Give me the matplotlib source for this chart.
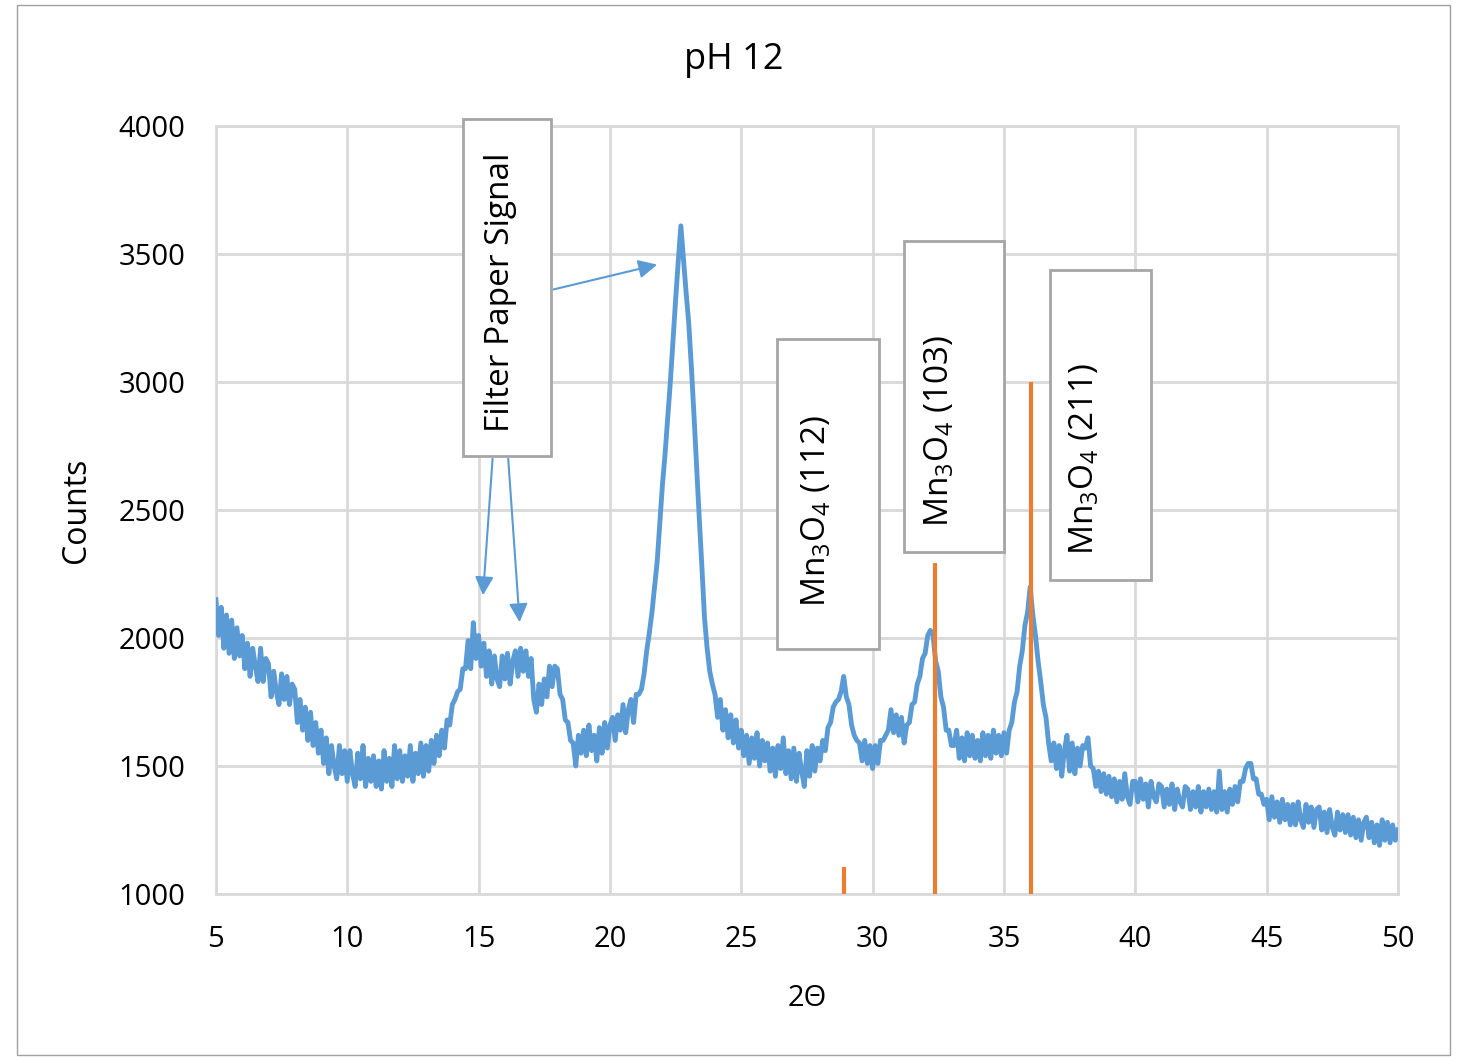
import numpy as np
import matplotlib.pyplot as plt
from matplotlib.patches import Rectangle

# XRD pattern, pH 12 (one row per degree, step 0.1)
counts = [
    2150, 2010, 2120, 1960, 2090, 1940, 2070, 1920, 2040, 1930,  # 5
    2010, 1880, 1980, 1850, 1960, 1890, 1830, 1960, 1830, 1920,  # 6
    1900, 1770, 1870, 1790, 1740, 1860, 1760, 1850, 1740, 1820,  # 7
    1800, 1670, 1760, 1640, 1730, 1600, 1710, 1580, 1670, 1550,  # 8
    1640, 1510, 1610, 1470, 1580, 1500, 1450, 1580, 1470, 1560,  # 9
    1440, 1560, 1470, 1420, 1550, 1450, 1580, 1420, 1530, 1440,  # 10
    1540, 1420, 1520, 1410, 1560, 1440, 1530, 1420, 1580, 1450,  # 11
    1560, 1440, 1540, 1460, 1580, 1440, 1550, 1470, 1590, 1460,  # 12
    1580, 1480, 1600, 1510, 1620, 1540, 1640, 1570, 1680, 1660,  # 13
    1740, 1760, 1790, 1800, 1880, 1880, 1990, 1880, 2060, 1920,  # 14
    2010, 1890, 1980, 1850, 1950, 1820, 1930, 1840, 1810, 1930,  # 15
    1840, 1940, 1820, 1910, 1950, 1850, 1960, 1870, 1950, 1850,  # 16
    1920, 1760, 1710, 1820, 1740, 1840, 1770, 1890, 1810, 1890,  # 17
    1880, 1780, 1760, 1680, 1670, 1600, 1590, 1500, 1620, 1550,  # 18
    1640, 1540, 1660, 1560, 1620, 1520, 1650, 1550, 1670, 1570,  # 19
    1660, 1690, 1600, 1700, 1640, 1740, 1630, 1720, 1760, 1670,  # 20
    1780, 1780, 1800, 1860, 1950, 2020, 2100, 2200, 2300, 2450,  # 21
    2600, 2720, 2860, 3000, 3160, 3320, 3470, 3610, 3480, 3350,  # 22
    3230, 3060, 2870, 2670, 2470, 2280, 2080, 1960, 1870, 1820,  # 23
    1780, 1690, 1760, 1640, 1720, 1610, 1700, 1590, 1680, 1570,  # 24
    1640, 1540, 1620, 1510, 1610, 1530, 1630, 1500, 1600, 1520,  # 25
    1590, 1480, 1570, 1460, 1580, 1490, 1610, 1470, 1560, 1450,  # 26
    1570, 1440, 1550, 1480, 1420, 1560, 1460, 1580, 1480, 1570,  # 27
    1520, 1600, 1560, 1650, 1670, 1730, 1750, 1760, 1790, 1850,  # 28
    1770, 1740, 1660, 1620, 1600, 1590, 1520, 1600, 1510, 1580,  # 29
    1490, 1580, 1510, 1600, 1600, 1620, 1640, 1720, 1630, 1700,  # 30
    1620, 1690, 1590, 1660, 1670, 1740, 1750, 1820, 1850, 1920,  # 31
    1940, 2010, 2030, 2010, 1910, 1870, 1770, 1730, 1640, 1640,  # 32
    1580, 1580, 1640, 1530, 1610, 1520, 1630, 1540, 1620, 1530,  # 33
    1600, 1520, 1630, 1540, 1620, 1530, 1640, 1550, 1620, 1540,  # 34
    1630, 1550, 1640, 1670, 1750, 1790, 1890, 1950, 2050, 2100,  # 35
    2200, 2090, 2010, 1910, 1830, 1740, 1690, 1590, 1520, 1590,  # 36
    1490, 1580, 1460, 1560, 1620, 1480, 1590, 1470, 1570, 1500,  # 37
    1580, 1570, 1610, 1500, 1490, 1420, 1480, 1400, 1470, 1390,  # 38
    1460, 1380, 1450, 1360, 1440, 1370, 1470, 1380, 1350, 1440,  # 39
    1440, 1360, 1450, 1370, 1430, 1340, 1440, 1380, 1360, 1430,  # 40
    1420, 1340, 1410, 1350, 1430, 1330, 1410, 1360, 1340, 1420,  # 41
    1410, 1330, 1400, 1340, 1420, 1320, 1400, 1340, 1410, 1330,  # 42
    1400, 1320, 1480, 1330, 1400, 1320, 1410, 1350, 1420, 1360,  # 43
    1440, 1440, 1490, 1510, 1510, 1450, 1450, 1390, 1390, 1350,  # 44
    1370, 1290, 1380, 1300, 1360, 1280, 1370, 1290, 1350, 1270,  # 45
    1350, 1270, 1360, 1290, 1260, 1350, 1280, 1340, 1260, 1330,  # 46
    1340, 1250, 1320, 1240, 1330, 1260, 1230, 1320, 1250, 1310,  # 47
    1240, 1310, 1230, 1300, 1220, 1290, 1210, 1280, 1300, 1220,  # 48
    1280, 1200, 1270, 1190, 1290, 1210, 1280, 1200, 1270, 1210,  # 49
    1250,                                                          # 50
]
two_theta = np.linspace(5, 50, len(counts))

# reference Mn3O4 sticks
stick_pos = [28.9, 32.37, 36.02]
stick_height = [1105, 2293, 3000]

labels = ["Filter Paper Signal", "Mn$_3$O$_4$ (112)", "Mn$_3$O$_4$ (103)", "Mn$_3$O$_4$ (211)"]

blue = "#5b9bd5"
orange = "#ed7d31"
plt.rcParams["font.family"] = ["Open Sans", "DejaVu Sans"]
plt.rcParams["mathtext.fontset"] = "custom"
plt.rcParams["mathtext.rm"] = "Open Sans"
plt.rcParams["mathtext.default"] = "regular"

fig = plt.figure(figsize=(14.58, 10.57), dpi=100)
ax = fig.add_axes([0.1481, 0.1542, 0.8107, 0.7266])

ax.plot(two_theta, counts, color=blue, lw=3.5, zorder=3)
ax.vlines(stick_pos, 1000, stick_height, color=orange, lw=3, zorder=4)

ax.set_xlim(5, 50)
ax.set_ylim(1000, 4000)
ax.set_xticks(np.arange(5, 51, 5))
ax.set_yticks(np.arange(1000, 4001, 500))
ax.grid(True, color="#d9d9d9", lw=2)
ax.set_axisbelow(True)
for s in ax.spines.values():
    s.set_color("#d9d9d9")
    s.set_linewidth(2)
ax.tick_params(length=0, labelsize=21)
ax.tick_params(axis="x", pad=22)
ax.tick_params(axis="y", pad=22)

fig.text(0.503, 0.943, "pH 12", fontsize=26, ha="center", va="center")
ax.set_xlabel("2Θ", fontsize=21, labelpad=22)
ax.set_ylabel("Counts", fontsize=23, labelpad=18)

# annotation boxes: (x0, x1, y0, y1) and text centre
boxes = [(14.40, 17.75, 2711, 4027), (26.36, 30.24, 1957, 3168),
         (31.19, 35.00, 2336, 3551), (36.75, 40.59, 2227, 3437)]
text_pos = [(15.85, 3350), (27.88, 2495), (32.56, 2810), (38.08, 2700)]
for (x0, x1, y0, y1), (tx, ty), lab in zip(boxes, text_pos, labels):
    ax.add_patch(Rectangle((x0, y0), x1 - x0, y1 - y0, facecolor="white",
                           edgecolor="#a6a6a6", lw=2, zorder=5, clip_on=False))
    ax.text(tx, ty, lab, rotation=90, ha="center", va="center", fontsize=24, zorder=6)

arrow = dict(arrowstyle="-|>", color=blue, lw=1.5, mutation_scale=28)
ax.annotate("", xy=(15.16, 2156), xytext=(15.54, 2711), arrowprops=arrow, zorder=4)
ax.annotate("", xy=(16.57, 2051), xytext=(16.12, 2711), arrowprops=arrow, zorder=4)
ax.annotate("", xy=(21.90, 3461), xytext=(17.75, 3359), arrowprops=arrow, zorder=4)

fig.add_artist(Rectangle((0.0117, 0.002), 0.9828, 0.9933, transform=fig.transFigure,
                         fill=False, edgecolor="#a0a0a0", lw=1))

fig.savefig("out.png", dpi=100)
